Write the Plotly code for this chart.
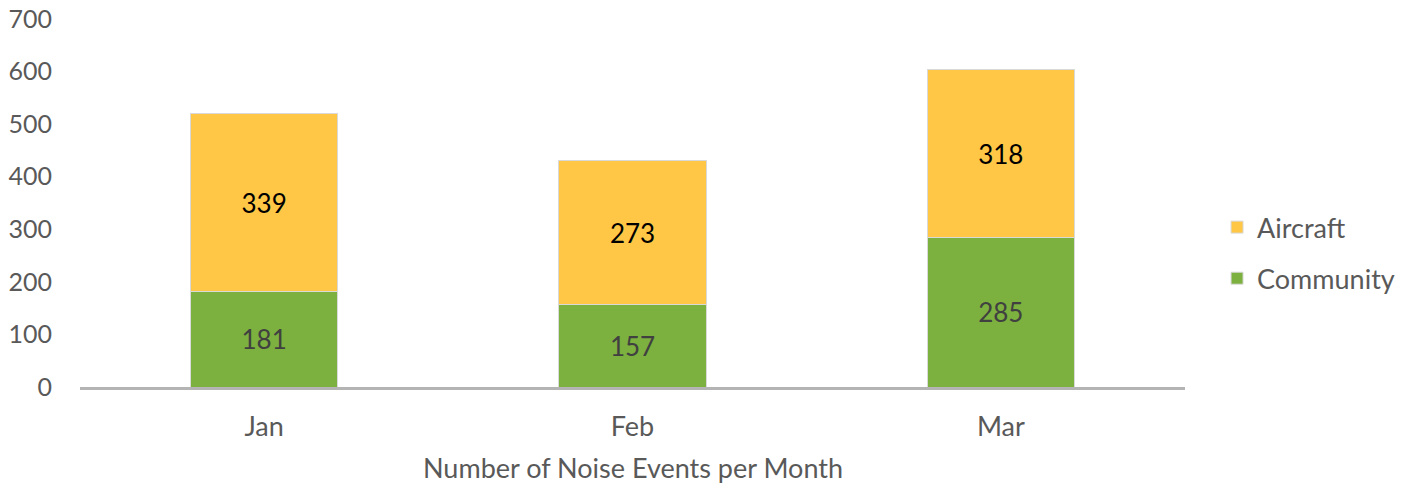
import plotly.graph_objects as go

months = ["Jan", "Feb", "Mar"]
community = [181, 157, 285]
aircraft = [339, 273, 318]
y_ticks = [0, 100, 200, 300, 400, 500, 600, 700]
x_title = "Number of Noise Events per Month"

FONT = "Lato, 'Open Sans', sans-serif"
GREY = "#595959"

fig = go.Figure()
fig.add_trace(go.Bar(
    x=months, y=community, name="Community", legendgroup="c", legendrank=2,
    marker=dict(color="#7cb03f", line=dict(color="#d9d9d9", width=1)),
    text=community, textposition="inside", insidetextanchor="middle", textangle=0,
    textfont=dict(family=FONT, size=26, color="#404040"),
    width=0.4,
))
fig.add_trace(go.Bar(
    x=months, y=aircraft, name="Aircraft", legendgroup="a", legendrank=1,
    marker=dict(color="#ffc745", line=dict(color="#d9d9d9", width=1)),
    text=aircraft, textposition="inside", insidetextanchor="middle", textangle=0,
    textfont=dict(family=FONT, size=26, color="#000000"),
    width=0.4,
))

fig.add_annotation(
    text=x_title, xref="paper", yref="paper", x=0.5, y=-0.22,
    xanchor="center", yanchor="middle", showarrow=False,
    font=dict(family=FONT, size=27, color=GREY),
)

fig.update_layout(
    width=1406, height=485,
    barmode="stack",
    plot_bgcolor="white", paper_bgcolor="white",
    margin=dict(l=80, r=221, t=19, b=98, autoexpand=False),
    font=dict(family=FONT, size=26, color=GREY),
    uniformtext=dict(minsize=10, mode="show"),
    legend=dict(
        x=1.029, y=0.364, xanchor="left", yanchor="middle",
        traceorder="grouped", font=dict(size=27, color=GREY),
        itemwidth=30, tracegroupgap=13,
    ),
    xaxis=dict(
        showline=True, linecolor="#b4b4b4", linewidth=3,
        ticks="", tickfont=dict(size=27, color=GREY),
        ticklabelstandoff=14, automargin=False,
    ),
    yaxis=dict(
        range=[0, 700], tickvals=y_ticks, showgrid=False, zeroline=False,
        showline=False, ticks="", tickfont=dict(size=25, color=GREY),
        ticklabelstandoff=27, automargin=False,
    ),
)

fig.write_html("out.html", config={"displayModeBar": False},
               post_script="document.body.style.margin='0';")
